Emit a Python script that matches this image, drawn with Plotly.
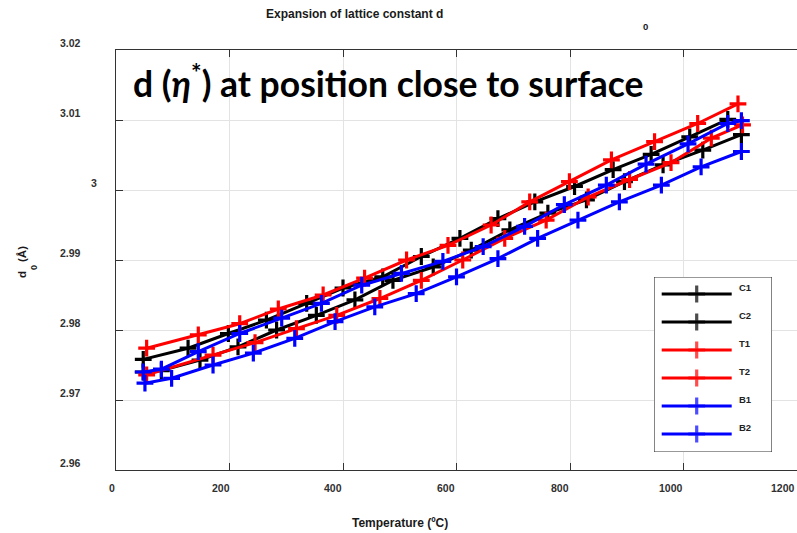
import plotly.graph_objects as go

# Lattice constant d0 (Å) versus temperature (°C) for six sample positions
temp_c1 = [48, 127, 198, 265, 336, 400, 470, 538, 606, 673, 738, 808, 876, 943, 1011, 1078]
d_c1 = [2.9758, 2.9774, 2.9795, 2.9814, 2.9838, 2.9860, 2.9876, 2.9905, 2.9931, 2.9959,
        2.9983, 3.0005, 3.0029, 3.0051, 3.0076, 3.0101]

temp_c2 = [48, 80, 148, 215, 283, 353, 421, 488, 559, 626, 694, 761, 829, 896, 964, 1034, 1102]
d_c2 = [2.9740, 2.9742, 2.9757, 2.9776, 2.9800, 2.9821, 2.9843, 2.9871, 2.9890, 2.9914,
        2.9943, 2.9967, 2.9986, 3.0012, 3.0036, 3.0057, 3.0079]

temp_t1 = [54, 145, 218, 286, 365, 438, 512, 585, 661, 729, 799, 873, 949, 1025, 1096]
d_t1 = [2.9774, 2.9793, 2.9809, 2.9830, 2.9850, 2.9874, 2.9900, 2.9921, 2.9950, 2.9983,
        3.0012, 3.0043, 3.0069, 3.0095, 3.0123]

temp_t2 = [54, 171, 245, 318, 389, 465, 538, 611, 685, 758, 832, 905, 978, 1049, 1104]
d_t2 = [2.9736, 2.9764, 2.9782, 2.9802, 2.9821, 2.9845, 2.9871, 2.9900, 2.9931, 2.9957,
        2.9990, 3.0015, 3.0039, 3.0074, 3.0093]

temp_b1 = [48, 80, 145, 218, 292, 362, 433, 503, 576, 647, 720, 790, 864, 934, 1008, 1078, 1102]
d_b1 = [2.9740, 2.9744, 2.9769, 2.9795, 2.9817, 2.9838, 2.9864, 2.9881, 2.9898, 2.9919,
        2.9948, 2.9979, 3.0007, 3.0037, 3.0066, 3.0095, 3.0099]

temp_b2 = [51, 98, 171, 242, 315, 386, 456, 529, 600, 673, 743, 814, 887, 961, 1031, 1102]
d_b2 = [2.9724, 2.9731, 2.9750, 2.9767, 2.9788, 2.9812, 2.9833, 2.9852, 2.9876, 2.9902,
        2.9931, 2.9957, 2.9983, 3.0007, 3.0033, 3.0055]

series_names = ["C1", "C2", "T1", "T2", "B1", "B2"]
series_colors = ["#000000", "#000000", "#ff0000", "#ff0000", "#0000ff", "#0000ff"]
series_x = [temp_c1, temp_c2, temp_t1, temp_t2, temp_b1, temp_b2]
series_y = [d_c1, d_c2, d_t1, d_t2, d_b1, d_b2]

x_ticks = [0, 200, 400, 600, 800, 1000, 1200]
x_tick_text = ["0", "200", "400", "600", "800", "1000", "1200"]
y_ticks = [2.96, 2.97, 2.98, 2.99, 3.00, 3.01, 3.02]
y_tick_text = ["2.96", "2.97", "2.98", "2.99", "3", "3.01", "3.02"]

W, H = 797, 533
M_L, M_R, M_T, M_B = 116, 0, 50, 63
PW, PH = W - M_L - M_R, H - M_T - M_B

LABEL_FONT = dict(family="Liberation Sans", size=10.5, color="#303030", weight="bold")
TITLE_FONT = dict(family="Liberation Sans", size=12, color="#1a1a1a", weight="bold")
AXIS_COLOR = "#333333"


def px_x(px):
    return (px - M_L) / PW


def px_y(py):
    return (H - M_B - py) / PH


fig = go.Figure()

for name, color, xs, ys in zip(series_names, series_colors, series_x, series_y):
    fig.add_trace(go.Scatter(
        x=xs, y=ys, name=name, mode="lines+markers",
        line=dict(color=color, width=3),
        marker=dict(symbol="cross-thin", size=12, color=color,
                    line=dict(color=color, width=3.2)),
        showlegend=False, xaxis="x", yaxis="y",
    ))

# Legend panel drawn in a small inset axis
leg_x0, leg_x1, leg_y0, leg_y1 = 654, 772, 277, 452
row_top_px, row_step_px = 294, 28
leg_top = (row_top_px - leg_y0) / row_step_px
leg_bot = -(leg_y1 - row_top_px) / row_step_px
fig.add_trace(go.Scatter(
    x=[0, 1, 1, 0, 0], y=[leg_top, leg_top, leg_bot, leg_bot, leg_top],
    mode="lines", fill="toself", fillcolor="white",
    line=dict(color="#333333", width=1.2),
    hoverinfo="skip", showlegend=False, xaxis="x2", yaxis="y2",
))
key_l = (661.7 - leg_x0) / (leg_x1 - leg_x0)
key_r = (731.7 - leg_x0) / (leg_x1 - leg_x0)
key_m = (key_l + key_r) / 2
text_x = (737 - leg_x0) / (leg_x1 - leg_x0)
for i, (name, color) in enumerate(zip(series_names, series_colors)):
    fig.add_trace(go.Scatter(
        x=[key_l, key_m, key_r], y=[-i, -i, -i], mode="lines+markers",
        line=dict(color=color, width=3),
        marker=dict(symbol="cross-thin", size=[0, 12, 0], color=color,
                    line=dict(color=color, width=3.2)),
        hoverinfo="skip", showlegend=False, xaxis="x2", yaxis="y2",
    ))
    fig.add_annotation(x=text_x, y=-i, xref="x2", yref="y2", text=name,
                       showarrow=False, xanchor="left", yanchor="middle",
                       yshift=7, font=dict(family="Liberation Sans", size=9.5,
                                           color="#222222", weight="bold"))

# Tick labels
x_shifts = [-4, -9, -10, -11, -10, -13, -14]
for v, t, s in zip(x_ticks, x_tick_text, x_shifts):
    fig.add_annotation(x=v, y=0, xref="x", yref="paper", text=t, showarrow=False,
                       xanchor="center", yanchor="middle", xshift=s, yshift=-18,
                       font=LABEL_FONT)
for v, t in zip(y_ticks, y_tick_text):
    fig.add_annotation(x=0, y=v, xref="paper", yref="y", text=t, showarrow=False,
                       xanchor="right", yanchor="middle",
                       xshift=-17 if t == "3" else -33, yshift=7,
                       font=LABEL_FONT)

# Titles
fig.add_annotation(x=px_x(354), y=px_y(14), xref="paper", yref="paper",
                   text="Expansion of lattice constant d", showarrow=False,
                   xanchor="center", yanchor="middle", font=TITLE_FONT)
fig.add_annotation(x=px_x(645), y=px_y(27), xref="paper", yref="paper",
                   text="0", showarrow=False, xanchor="center", yanchor="middle",
                   font=dict(family="Liberation Sans", size=9.5, color="#1a1a1a", weight="bold"))
fig.add_annotation(x=px_x(400), y=px_y(523), xref="paper", yref="paper",
                   text="Temperature (ºC)", showarrow=False, xanchor="center", yanchor="middle",
                   font=TITLE_FONT)
fig.add_annotation(x=px_x(22), y=px_y(254), xref="paper", yref="paper",
                   text="(Å)", textangle=-90, showarrow=False,
                   xanchor="center", yanchor="middle",
                   font=dict(family="Liberation Sans", size=11.5, color="#1a1a1a", weight="bold"))
fig.add_annotation(x=px_x(22), y=px_y(275), xref="paper", yref="paper",
                   text="d", textangle=-90, showarrow=False,
                   xanchor="center", yanchor="middle",
                   font=dict(family="Liberation Sans", size=11.5, color="#1a1a1a", weight="bold"))
fig.add_annotation(x=px_x(34), y=px_y(268), xref="paper", yref="paper",
                   text="0", textangle=-90, showarrow=False,
                   xanchor="center", yanchor="middle",
                   font=dict(family="Liberation Sans", size=9, color="#1a1a1a", weight="bold"))

# Large caption inside the plot
fig.add_annotation(x=px_x(131), y=px_y(81), xref="paper", yref="paper",
                   text="d (<i>η</i><sup>*</sup>) at position close to surface",
                   showarrow=False, xanchor="left", yanchor="middle",
                   font=dict(family="Lato", size=35.5, color="#000000", weight="bold"))

fig.update_layout(
    width=W, height=H,
    margin=dict(l=M_L, r=M_R, t=M_T, b=M_B, pad=0),
    paper_bgcolor="white", plot_bgcolor="white",
    xaxis=dict(range=[0, 1200], tickvals=x_ticks, showticklabels=False,
               ticks="inside", ticklen=7, tickcolor=AXIS_COLOR, tickwidth=1,
               showline=True, linecolor=AXIS_COLOR, linewidth=1.3, mirror="allticks",
               showgrid=True, gridcolor="#e3e3e3", gridwidth=1, zeroline=False),
    yaxis=dict(range=[2.96, 3.02], tickvals=y_ticks, showticklabels=False,
               ticks="inside", ticklen=7, tickcolor=AXIS_COLOR, tickwidth=1,
               showline=True, linecolor=AXIS_COLOR, linewidth=1.3, mirror=False,
               showgrid=True, gridcolor="#e3e3e3", gridwidth=1, zeroline=False),
    xaxis2=dict(domain=[px_x(leg_x0), px_x(leg_x1)], range=[0, 1], anchor="y2",
                visible=False, fixedrange=True),
    yaxis2=dict(domain=[px_y(leg_y1), px_y(leg_y0)], range=[leg_bot, leg_top],
                anchor="x2", visible=False, fixedrange=True),
    showlegend=False,
)

fig.write_html("out.html")
